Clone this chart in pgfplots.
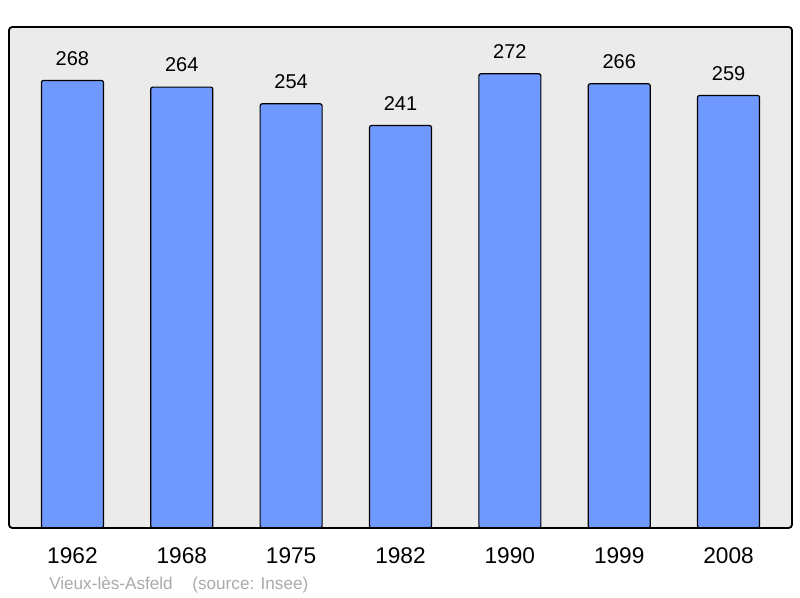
\documentclass[border=0pt]{standalone}
\usepackage{pgfplots}
\pgfplotsset{compat=1.18}
\usepackage{fontspec}
\setmainfont{Liberation Sans}
\definecolor{barblue}{HTML}{7099FF}
\definecolor{bggray}{HTML}{EBEBEB}
\definecolor{footgray}{HTML}{AAAAAA}
\begin{document}
\begin{tikzpicture}[x=1pt,y=1pt]
\path[use as bounding box] (0,0) rectangle (600,448.5);
\begin{axis}[
  at={(6.75pt,52.5pt)}, anchor=south west,
  scale only axis, width=587.25pt, height=375.75pt,
  xmin=-0.58, xmax=6.58, ymin=0, ymax=300,
  axis line style={draw=none},
  axis background/.style={fill=bggray, rounded corners=2.5pt},
  ytick=\empty,
  xtick=data,
  xticklabels={1962,1968,1975,1982,1990,1999,2008},
  major tick length=0pt,
  xticklabel style={anchor=center, yshift=-21pt, font=\fontsize{17pt}{20pt}\selectfont},
  /pgf/number format/assume math mode=true,
  ybar, bar width=46.5pt,
  nodes near coords,
  nodes near coords style={anchor=center, yshift=16.5pt, font=\fontsize{15pt}{18pt}\selectfont},
  clip=false,
]
\addplot[fill=barblue, draw=black, line width=0.9pt, rounded corners=1.5pt] coordinates {
(0,268) (1,264) (2,254) (3,241) (4,272) (5,266) (6,259)};
\draw[line width=1.4pt, rounded corners=2.5pt] (rel axis cs:0,0) rectangle (rel axis cs:1,1);
\end{axis}
\node[anchor=west, inner sep=0pt, text=footgray, font=\fontsize{12.85pt}{15pt}\selectfont] at (36.75,9.5) {Vieux-lès-Asfeld\hspace{1.15em}(source: Insee)};
\end{tikzpicture}
\end{document}
